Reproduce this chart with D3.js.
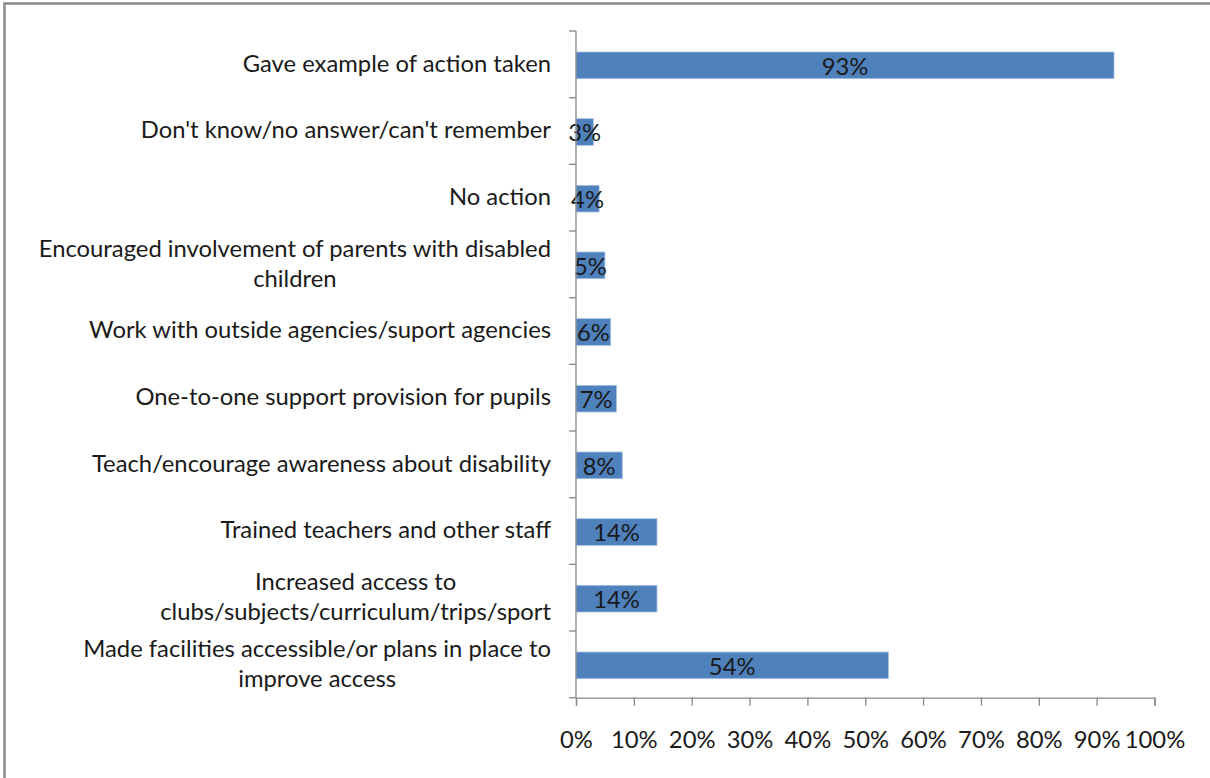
<!DOCTYPE html>
<html>
<head>
<meta charset="utf-8">
<script src="https://cdn.jsdelivr.net/npm/d3@7"></script>
<style>
  body { margin: 0; background: #fff; }
  svg text { font-family: Lato, "Open Sans", sans-serif; fill: #1a1a1a; }
</style>
</head>
<body>
<div id="chart"></div>
<script>
// Categories, top to bottom as drawn.
var categories = [
  "Gave example of action taken",
  "Don't know/no answer/can't remember",
  "No action",
  "Encouraged involvement of parents with disabled children",
  "Work with outside agencies/suport agencies",
  "One-to-one support provision for pupils",
  "Teach/encourage awareness about disability",
  "Trained teachers and other staff",
  "Increased access to clubs/subjects/curriculum/trips/sport",
  "Made facilities accessible/or plans in place to improve access"
];
var values = [93, 3, 4, 5, 6, 7, 8, 14, 14, 54];
var tickValues = [0, 10, 20, 30, 40, 50, 60, 70, 80, 90, 100];

var width = 1210;
var height = 778;
var margin = {top: 31, right: 55, bottom: 80, left: 576};
var fontSize = "23.8px";

var svg = d3.select("#chart").append("svg")
    .attr("width", width)
    .attr("height", height);

// outer frame (only top/left edges fall inside the picture)
svg.append("rect")
    .attr("x", 4.5).attr("y", 3.5)
    .attr("width", 1400).attr("height", 1000)
    .attr("fill", "none")
    .attr("stroke", "#8a8a8a")
    .attr("stroke-width", 2.5);

var x = d3.scaleLinear()
    .domain([0, 100])
    .range([margin.left, 1154.5]);

var y = d3.scaleBand()
    .domain(categories)
    .range([margin.top, 697.7])
    .paddingInner(0.6)
    .paddingOuter(0.3);

// band boundaries for the category tick marks
var yEdge = d3.scaleLinear()
    .domain([0, categories.length])
    .range([margin.top, 697.7]);

// bars
svg.selectAll("rect.bar")
    .data(values)
    .enter().append("rect")
    .attr("class", "bar")
    .attr("x", x(0))
    .attr("y", function(d, i) { return y(categories[i]) + 1; })
    .attr("width", function(d) { return x(d) - x(0); })
    .attr("height", y.bandwidth())
    .attr("fill", "#4f81bd")
    .attr("stroke", "#a8c2e2")
    .attr("stroke-width", 0.8);

// data labels, centred in the bar
svg.selectAll("text.val")
    .data(values)
    .enter().append("text")
    .attr("class", "val")
    .attr("x", function(d) { return (x(0) + x(d)) / 2; })
    .attr("y", function(d, i) { return y(categories[i]) + y.bandwidth() / 2 + 2; })
    .attr("dy", "0.35em")
    .attr("text-anchor", "middle")
    .style("font-size", fontSize)
    .text(function(d) { return d + "%"; });

// vertical axis line and ticks
var axisColor = "#888";
svg.append("line")
    .attr("x1", x(0)).attr("x2", x(0))
    .attr("y1", margin.top).attr("y2", 697.7)
    .attr("stroke", axisColor).attr("stroke-width", 1.3);
svg.selectAll("line.ytick")
    .data(d3.range(categories.length + 1))
    .enter().append("line")
    .attr("class", "ytick")
    .attr("x1", x(0) - 7).attr("x2", x(0))
    .attr("y1", function(d) { return yEdge(d); })
    .attr("y2", function(d) { return yEdge(d); })
    .attr("stroke", axisColor).attr("stroke-width", 1.3);

// horizontal axis
var xAxis = d3.axisBottom(x)
    .tickValues(tickValues)
    .tickSize(8)
    .tickFormat(function(d) { return d + "%"; });

var gx = svg.append("g")
    .attr("transform", "translate(0," + 697.7 + ")")
    .call(xAxis);
gx.select(".domain").attr("stroke", axisColor).attr("stroke-width", 1.3);
gx.selectAll(".tick line").attr("stroke", axisColor).attr("stroke-width", 1.3);
gx.selectAll(".tick text")
    .attr("y", 42)
    .attr("dy", "0.35em")
    .style("font-size", fontSize)
    .style("font-family", "Lato, 'Open Sans', sans-serif")
    .attr("fill", "#1a1a1a");

// category labels, wrapped and centred as a block right-aligned to the axis
var labelRight = 551;
var maxLabelWidth = 525;
var lineHeight = 30;

categories.forEach(function(cat, i) {
  var t = svg.append("text")
      .attr("text-anchor", "middle")
      .style("font-size", fontSize);
  var words = cat.split(" ");
  var lines = [];
  var current = [];
  var probe = svg.append("text").style("font-size", fontSize);
  words.forEach(function(w) {
    var attempt = current.concat([w]).join(" ");
    probe.text(attempt);
    if (current.length && probe.node().getComputedTextLength() > maxLabelWidth) {
      lines.push(current.join(" "));
      current = [w];
    } else {
      current.push(w);
    }
  });
  lines.push(current.join(" "));
  var widest = 0;
  lines.forEach(function(l) {
    probe.text(l);
    widest = Math.max(widest, probe.node().getComputedTextLength());
  });
  probe.remove();

  var cy = yEdge(i + 0.5) - 1;
  var cx = labelRight - widest / 2;
  lines.forEach(function(l, k) {
    t.append("tspan")
        .attr("x", cx)
        .attr("y", cy + (k - (lines.length - 1) / 2) * lineHeight)
        .attr("dy", "0.35em")
        .text(l);
  });
});
</script>
</body>
</html>
